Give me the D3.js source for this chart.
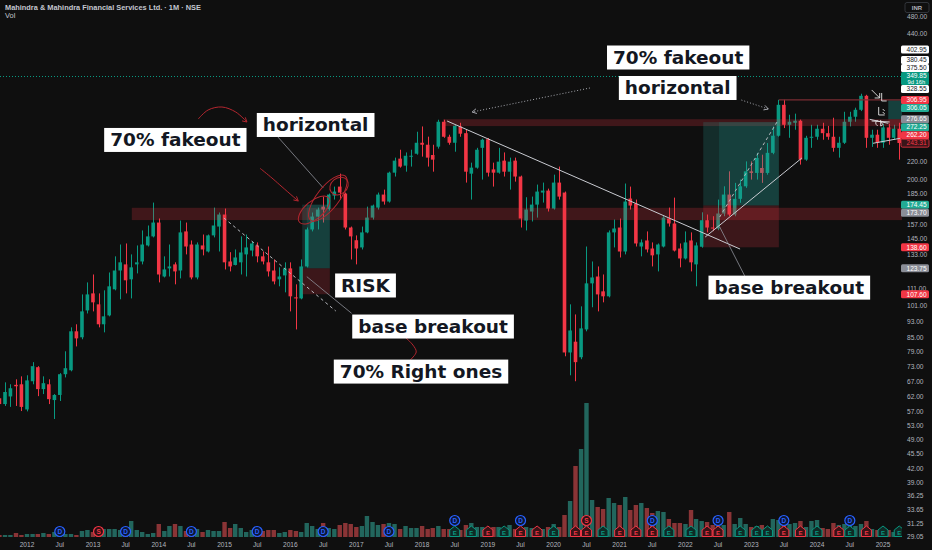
<!DOCTYPE html>
<html>
<head>
<meta charset="utf-8">
<script src="https://cdn.jsdelivr.net/npm/d3@7"></script>
<style>
  html, body { margin: 0; padding: 0; background: #0f0f0f; }
  svg { display: block; }
</style>
</head>
<body>
<div class="chart-container"></div>
<script>
// monthly candles, first bar Aug 2011
const startMonth = new Date(2011, 7, 1)

const opens = [
  61.4, 59.5, 62.0, 66.0, 66.2,
  57.8, 67.3, 72.6, 64.5, 66.2, 60.8, 62.5, 69.9, 71.4, 88.1, 85.3, 98.6,
  108.1, 101.9, 91.5, 96.0, 110.5, 122.3, 126.4, 116.6, 126.4, 128.4, 140.0, 147.0,
  158.4, 118.4, 123.7, 126.4, 122.3, 151.0, 140.7, 117.8, 140.0, 135.5, 147.8, 155.0,
  165.4, 128.4, 126.0, 127.8, 133.4, 136.2, 140.0, 132.0, 127.8, 122.3, 116.6, 119.1,
  123.7, 105.8, 105.2, 125.0, 152.6, 163.6, 172.6, 170.5, 183.2, 192.3, 185.2, 154.2,
  144.0, 138.5, 150.2, 162.7, 171.7, 184.2, 177.4, 207.3, 223.6, 215.3, 226.0, 229.6,
  243.6, 241.0, 228.0, 238.5, 272.8, 251.6, 243.6, 266.0, 256.5, 206.2, 213.0, 237.0,
  248.3, 211.0, 207.3, 221.2, 208.4, 221.2, 203.0, 160.1, 168.1, 174.5, 186.2, 188.2,
  170.8, 196.5, 186.2, 78.6, 83.3, 76.6, 89.0, 114.1, 118.4, 109.3, 106.4, 150.2,
  154.2, 135.5, 180.3, 175.4, 139.2, 143.8, 137.7, 133.4, 139.2, 161.9, 157.6, 137.7,
  130.5, 143.8, 126.4, 139.0, 160.4, 154.2, 153.4, 166.3, 184.2, 165.4, 180.0, 192.6,
  208.8, 207.0, 212.6, 207.0, 230.7, 253.0, 298.9, 268.4, 271.3, 274.3, 222.4, 250.2,
  251.6, 262.7, 256.5, 251.6, 237.0, 243.6, 272.8, 280.3, 291.0, 313.8, 250.2, 254.4,
  243.6, 264.6, 250.2, 262.7
]
const highs = [
  68.7, 66.9, 66.2, 68.0, 69.1,
  69.5, 74.6, 73.0, 69.1, 68.0, 62.8, 70.3, 79.1, 90.0, 91.5, 107.5, 114.7,
  119.7, 108.1, 109.9, 121.0, 132.0, 140.7, 141.5, 133.4, 140.0, 151.8, 155.9, 176.4,
  161.9, 132.0, 140.7, 127.8, 160.1, 158.4, 143.8, 142.3, 148.5, 148.5, 171.7, 167.2,
  170.8, 135.0, 137.0, 147.0, 148.5, 143.0, 142.3, 135.5, 139.2, 129.8, 124.4, 127.8,
  127.8, 113.5, 129.8, 154.2, 167.2, 171.7, 182.2, 185.2, 192.3, 206.2, 186.2, 155.0,
  147.8, 155.0, 172.6, 174.5, 186.2, 189.2, 208.4, 224.8, 234.6, 231.2, 234.6, 258.5,
  266.0, 251.7, 241.0, 275.8, 275.8, 254.4, 268.4, 271.3, 261.3, 218.8, 237.0, 249.0,
  249.9, 218.8, 237.0, 231.2, 224.8, 224.8, 204.0, 181.6, 182.2, 194.4, 196.5, 190.2,
  205.1, 214.2, 187.2, 101.9, 96.5, 100.8, 139.2, 128.4, 125.0, 119.7, 151.8, 161.0,
  161.9, 195.5, 192.3, 179.3, 144.6, 151.0, 142.3, 141.5, 164.5, 171.7, 181.2, 141.5,
  151.0, 150.2, 142.3, 167.4, 165.4, 163.9, 179.3, 192.6, 208.8, 196.2, 199.7, 220.3,
  220.3, 230.7, 228.4, 243.2, 266.0, 307.1, 307.1, 283.3, 285.0, 276.0, 252.9, 268.4,
  268.4, 271.3, 266.8, 278.8, 251.6, 287.9, 287.9, 294.3, 317.3, 315.5, 261.3, 261.3,
  269.9, 269.9, 268.4, 271.3
]
const lows = [
  56.9, 58.9, 58.6, 58.9, 57.3,
  57.2, 66.2, 62.1, 62.8, 59.5, 54.9, 60.5, 68.7, 71.0, 81.2, 84.4, 97.0,
  98.1, 90.0, 87.6, 95.5, 109.9, 104.7, 108.1, 105.2, 120.4, 126.4, 139.2, 146.2,
  114.7, 117.8, 118.4, 113.5, 117.2, 133.4, 116.6, 116.6, 132.7, 134.8, 146.2, 135.5,
  123.0, 121.7, 125.7, 119.7, 118.4, 132.0, 127.8, 126.4, 118.4, 113.5, 112.3, 108.7,
  98.1, 89.0, 104.7, 124.4, 151.0, 152.6, 158.4, 169.0, 179.3, 179.3, 152.6, 129.8,
  126.4, 137.0, 149.5, 161.0, 169.9, 174.5, 176.4, 203.0, 213.0, 208.4, 214.2, 228.4,
  226.0, 214.2, 208.4, 236.0, 250.2, 241.0, 232.1, 251.6, 196.5, 179.3, 211.8, 199.7,
  203.0, 192.3, 206.2, 203.0, 189.2, 197.5, 154.2, 151.8, 159.3, 162.7, 176.4, 168.1,
  169.9, 179.3, 77.0, 69.5, 67.3, 75.8, 88.1, 100.3, 98.1, 103.0, 105.8, 138.5,
  131.2, 133.4, 169.9, 139.2, 132.0, 134.8, 125.0, 121.7, 138.5, 155.0, 135.5, 124.4,
  129.8, 121.7, 112.3, 138.3, 150.2, 151.2, 152.0, 163.9, 163.9, 163.9, 176.2, 191.0,
  199.7, 199.7, 196.2, 205.0, 229.0, 251.7, 263.7, 250.2, 261.3, 216.5, 221.0, 237.0,
  247.6, 247.6, 247.6, 232.1, 224.8, 242.0, 266.0, 272.8, 289.0, 237.0, 238.2, 237.0,
  237.0, 241.0, 247.6, 222.4
]
const closes = [
  59.5, 63.5, 64.8, 65.5, 58.6,
  67.6, 73.0, 64.5, 66.6, 61.1, 62.5, 69.9, 72.2, 88.1, 84.8, 98.1, 107.5,
  103.0, 91.5, 95.5, 112.3, 122.3, 127.8, 116.0, 124.4, 127.8, 140.7, 147.0, 158.4,
  119.7, 123.0, 125.0, 121.7, 150.2, 139.2, 117.8, 140.7, 137.0, 147.8, 155.9, 165.4,
  127.8, 125.0, 131.2, 134.8, 138.5, 141.5, 132.0, 128.4, 121.7, 115.3, 118.4, 123.7,
  106.4, 105.2, 125.0, 152.6, 163.6, 169.9, 169.9, 184.2, 187.2, 186.2, 154.2, 147.0,
  137.7, 150.2, 162.7, 173.6, 184.2, 177.4, 207.3, 221.2, 214.2, 227.1, 227.1, 243.6,
  241.0, 224.8, 222.4, 272.8, 251.6, 243.6, 267.0, 255.8, 208.4, 213.0, 234.6, 247.6,
  207.3, 207.3, 220.0, 208.4, 220.0, 203.0, 161.9, 169.9, 174.5, 187.2, 188.2, 170.8,
  196.5, 182.2, 78.6, 88.5, 74.6, 89.5, 114.1, 117.8, 107.5, 106.4, 150.2, 153.4,
  135.5, 177.4, 173.6, 141.5, 142.3, 137.0, 132.7, 140.7, 162.7, 157.6, 136.2, 130.5,
  142.3, 127.8, 140.0, 160.4, 154.2, 153.4, 166.3, 184.2, 165.4, 180.0, 192.6, 208.8,
  207.0, 224.4, 207.0, 230.7, 253.0, 298.9, 268.4, 272.8, 274.3, 222.4, 250.2, 251.6,
  262.7, 256.5, 251.6, 237.0, 243.6, 272.8, 280.3, 291.0, 313.8, 250.2, 254.4, 243.6,
  264.6, 250.2, 262.7, 243.3
]
// volume, millions of shares
const volumes = [
  10, 10, 10, 20, 10,
  15, 15, 15, 20, 15, 25, 20, 15, 15, 10, 30, 35,
  25, 25, 40, 40, 40, 35, 35, 80, 35, 25, 15, 20,
  65, 30, 55, 65, 55, 30, 40, 40, 25, 35, 30, 30,
  75, 45, 65, 45, 25, 35, 25, 30, 35, 35, 20, 25,
  35, 30, 25, 70, 55, 40, 70, 45, 40, 60, 70, 65,
  50, 55, 105, 75, 60, 65, 70, 65, 40, 55, 45, 45,
  55, 40, 45, 55, 40, 40, 50, 35, 60, 70, 50, 50,
  45, 50, 50, 45, 60, 40, 45, 50, 45, 50, 40, 50,
  65, 50, 110, 180, 355, 440, 670, 185, 150, 140, 195, 170,
  160, 200, 135, 160, 170, 145, 120, 130, 125, 90, 70, 70,
  65, 135, 90, 80, 75, 60, 55, 60, 125, 65, 95, 65,
  50, 55, 60, 50, 90, 85, 65, 65, 70, 80, 50, 80,
  85, 45, 40, 70, 60, 65, 60, 55, 65, 80, 40, 35,
  40, 35, 25, 30
]

const dividendMonths = ['2012-07', '2013-07', '2014-07', '2015-07', '2016-07', '2017-07',
  '2018-07', '2019-07', '2021-07', '2022-07', '2023-07', '2024-07']
const splitMonths = ['2013-02', '2020-07']
const earningsMonths = ['2018-07', '2018-10', '2019-01', '2019-04', '2019-07', '2019-10',
  '2020-01', '2020-05', '2020-07', '2020-10', '2021-01', '2021-04', '2021-07', '2021-10',
  '2022-02', '2022-05', '2022-07', '2022-11', '2023-02', '2023-04', '2023-07', '2023-10',
  '2024-01', '2024-05', '2024-07', '2024-10', '2025-01', '2025-04']
const earningsBeat = [1, 1, 0, 1, 0, 0, 1, 0, 0, 1, 0, 0, 0, 1, 1, 0, 0, 1, 1, 1, 0, 0, 1, 0, 1, 0, 1, 1]

// price axis (121.00 sits under the 123.75 badge, so it is left out)
const tickValues = [480, 440, 220, 200, 185, 157, 145, 133, 111, 101, 93, 85, 79, 73,
  67, 62, 57, 53, 49, 45.5, 42, 39, 36.25, 33.65, 31.25, 29.05]
const badgeValues = [402.95, 380.45, 375.50, 349.85, 328.55, 306.95, 306.05, 276.65, 272.25,
  262.20, 243.31, 174.45, 173.70, 138.60, 123.75, 107.60]
const badgeKinds = ['white', 'white', 'white', 'last', 'white', 'red', 'teal', 'gray', 'teal',
  'red', 'outline', 'teal', 'gray', 'red', 'gray', 'red']
const lastPrice = 349.85
const priorHigh = 306.95

// drawings, anchored as [decimal year, price]
const zoneRanges = [[2013.59, 2025.6, 160.5, 171.5], [2018.32, 2025.6, 266.5, 276.6]]
const longTools = [
  // from, fill from, to, target, entry, stop
  [2016.18, 2016.25, 2016.60, 174.45, 123.75, 107.60],
  [2022.27, 2022.51, 2023.42, 272.25, 173.70, 138.60],
  [2025.08, 2025.08, 2025.6, 306.05, 276.65, 262.20]
]
const trendLines = [
  [[2018.38, 273.9], [2022.83, 137.3]],
  [[2022.30, 146.5], [2023.77, 224.4]],
  [[2024.85, 242.9], [2025.26, 249.5]],
  [[2024.80, 276.4], [2025.08, 270.5]]
]
const pointerLines = [
  [[2015.81, 251.3], [2016.50, 190.9]],
  [[2016.25, 118.3], [2016.93, 97.1]],
  [[2022.90, 118.8], [2022.52, 154.7]]
]
const dashedLines = [
  [[2014.99, 162.3], [2016.69, 98.3]],
  [[2022.52, 163.2], [2023.39, 272.25]]
]
const dottedArrows = [
  [[2020.55, 327.3], [2018.76, 287.5]],
  [[2022.85, 306.7], [2023.26, 292.2]]
]
const redStrokes = [
  [[2014.60, 276.9], [2014.75, 290.7], [2014.96, 295.4], [2015.17, 287.5], [2015.34, 272.4]],
  [[2015.54, 212.2], [2015.72, 201.4], [2015.84, 194.0], [2016.12, 177.9]],
  [[2017.74, 85.4], [2017.86, 81.8], [2017.91, 78.8], [2017.82, 75.5]]
]
const redCircles = [[2016.36, 169.5], [2016.57, 180.8], [2016.74, 192.9]]
const scribbleAt = [2024.83, 323.8]

const labelTexts = ['70% fakeout', 'horizontal', 'RISK', 'base breakout', '70% Right ones',
  '70% fakeout', 'horizontal', 'base breakout']
const labelAnchors = [[2013.17, 247.3], [2015.49, 268.1], [2016.68, 112.8], [2016.94, 90.4],
  [2016.66, 70.9], [2020.81, 385.8], [2020.99, 327.3], [2022.35, 111.5]]

let width = 932,
    height = 550,
    plotRight = 902,
    volBase = 537

const up = '#089981', down = '#f23645'
const axisFont = 'Liberation Sans, Arial, sans-serif'

let x = d3.scaleTime()
  .domain([new Date(2012, 0, 1), new Date(2025, 0, 1)])
  .range([27, 883])

let y = d3.scaleLog()
  .domain([29.05, 480])
  .range([537, 17])

let yVol = d3.scaleLinear()
  .domain([0, 670])
  .range([volBase, 403])

function yr (v) {
  let base = Math.floor(v)
  let t0 = new Date(base, 0, 1).getTime()
  return new Date(t0 + (v - base) * 365.25 * 864e5)
}
function pt (a) { return [x(yr(a[0])), y(a[1])] }
function ym (s) {
  let p = s.split('-')
  return new Date(+p[0], +p[1] - 1, 1)
}

let bars = opens.map((o, i) => ({
  date: d3.timeMonth.offset(startMonth, i),
  o: o, h: highs[i], l: lows[i], c: closes[i], v: volumes[i]
}))

let svg = d3.select('.chart-container')
  .append('svg')
  .attr('width', width)
  .attr('height', height)

svg.append('rect').attr('width', width).attr('height', height).attr('fill', '#0f0f0f')

svg.append('defs').append('clipPath').attr('id', 'plot')
  .append('rect').attr('width', plotRight).attr('height', height)

let plot = svg.append('g').attr('clip-path', 'url(#plot)')

// volume
plot.append('g').selectAll('rect')
  .data(bars)
  .enter()
  .append('rect')
  .attr('x', d => x(d.date) - 2.2)
  .attr('width', 4.4)
  .attr('y', d => yVol(d.v))
  .attr('height', d => volBase - yVol(d.v))
  .attr('fill', d => d.c >= d.o ? '#22665d' : '#8a3436')

// candles
let candle = plot.append('g').selectAll('g')
  .data(bars)
  .enter()
  .append('g')

candle.append('line')
  .attr('x1', d => Math.round(x(d.date)) + 0.5)
  .attr('x2', d => Math.round(x(d.date)) + 0.5)
  .attr('y1', d => y(d.h))
  .attr('y2', d => y(d.l))
  .attr('stroke', d => d.c >= d.o ? up : down)
  .attr('stroke-width', 1)

candle.append('rect')
  .attr('x', d => x(d.date) - 1.8)
  .attr('width', 3.6)
  .attr('y', d => y(Math.max(d.o, d.c)))
  .attr('height', d => Math.max(1, Math.abs(y(d.o) - y(d.c))))
  .attr('fill', d => d.c >= d.o ? up : down)

// zones
zoneRanges.forEach(z => {
  plot.append('rect')
    .attr('x', x(yr(z[0])))
    .attr('width', x(yr(z[1])) - x(yr(z[0])))
    .attr('y', y(z[3]))
    .attr('height', y(z[2]) - y(z[3]))
    .attr('fill', 'rgba(242,54,69,0.22)')
})

// long position tools
longTools.forEach(t => {
  let x0 = x(yr(t[0])), xf = x(yr(t[1])), x1 = x(yr(t[2]))
  plot.append('rect').attr('x', x0).attr('width', x1 - x0)
    .attr('y', y(t[3])).attr('height', y(t[4]) - y(t[3]))
    .attr('fill', 'rgba(38,166,154,0.2)')
  plot.append('rect').attr('x', xf).attr('width', x1 - xf)
    .attr('y', y(t[3])).attr('height', y(t[4]) - y(t[3]))
    .attr('fill', 'rgba(38,166,154,0.16)')
  plot.append('rect').attr('x', x0).attr('width', x1 - x0)
    .attr('y', y(t[4])).attr('height', y(t[5]) - y(t[4]))
    .attr('fill', 'rgba(242,54,69,0.2)')
})

// price lines
plot.append('line')
  .attr('x1', 0).attr('x2', plotRight)
  .attr('y1', Math.round(y(lastPrice)) + 0.5).attr('y2', Math.round(y(lastPrice)) + 0.5)
  .attr('stroke', up).attr('stroke-width', 1).attr('stroke-dasharray', '1,2')
plot.append('line')
  .attr('x1', x(yr(2023.42))).attr('x2', plotRight)
  .attr('y1', y(priorHigh)).attr('y2', y(priorHigh))
  .attr('stroke', '#7a2c33').attr('stroke-width', 1.2)

let line = d3.line()

trendLines.forEach(l => {
  plot.append('path').attr('d', line(l.map(pt)))
    .attr('stroke', '#c9cbd1').attr('stroke-width', 1).attr('fill', 'none')
})
pointerLines.forEach(l => {
  plot.append('path').attr('d', line(l.map(pt)))
    .attr('stroke', '#8f929a').attr('stroke-width', 0.8).attr('fill', 'none')
})
dashedLines.forEach(l => {
  plot.append('path').attr('d', line(l.map(pt)))
    .attr('stroke', '#b8bac0').attr('stroke-width', 1).attr('stroke-dasharray', '3,3')
    .attr('fill', 'none')
})

function arrowHead (g, p, q, color) {
  let a = Math.atan2(q[1] - p[1], q[0] - p[0])
  let s = 5
  let l1 = [q[0] - s * Math.cos(a - 0.5), q[1] - s * Math.sin(a - 0.5)]
  let l2 = [q[0] - s * Math.cos(a + 0.5), q[1] - s * Math.sin(a + 0.5)]
  g.append('path').attr('d', line([l1, q, l2]))
    .attr('stroke', color).attr('stroke-width', 1).attr('fill', 'none')
}

dottedArrows.forEach(l => {
  let ps = l.map(pt)
  plot.append('path').attr('d', line(ps))
    .attr('stroke', '#a7a9b0').attr('stroke-width', 1).attr('stroke-dasharray', '1,2')
    .attr('fill', 'none')
  arrowHead(plot, ps[0], ps[1], '#a7a9b0')
})

// hand drawn red marks
let curve = d3.line().curve(d3.curveCatmullRom)
redStrokes.forEach((s, i) => {
  let ps = s.map(pt)
  plot.append('path').attr('d', curve(ps))
    .attr('stroke', '#b3262f').attr('stroke-width', 1).attr('fill', 'none')
  if (i < 2) arrowHead(plot, ps[ps.length - 2], ps[ps.length - 1], '#b3262f')
})
const circleShapes = [[19, 9, -40], [28, 11, -52], [10, 8, -40]]
redCircles.forEach((c, i) => {
  let p = pt(c)
  plot.append('ellipse')
    .attr('transform', `translate(${p[0]},${p[1]}) rotate(${circleShapes[i][2]})`)
    .attr('rx', circleShapes[i][0]).attr('ry', circleShapes[i][1])
    .attr('stroke', '#b3262f').attr('stroke-width', 1).attr('fill', 'none')
})

// white scribbles near the latest high
let sp = pt(scribbleAt)
plot.append('path')
  .attr('transform', `translate(${sp[0]},${sp[1]})`)
  .attr('d', 'M0,0 L8,8 M8,8 L8,3 M8,8 L3,8 M10,3 L10,11 L15,11 ' +
    'M7,17 L7,25 L13,25 M11,19 L13,21 M11,22 L13,24 ' +
    'M6,30 Q2,33 6,36 M9,30 L9,36 Q13,35 9,32 M0,31 L18,32')
  .attr('stroke', '#e6e6e6').attr('stroke-width', 0.9).attr('fill', 'none')

// text boxes
let labels = plot.append('g')
labelTexts.forEach((t, i) => {
  let p = pt(labelAnchors[i])
  let g = labels.append('g')
  let box = g.append('rect').attr('fill', '#ffffff')
  let txt = g.append('text')
    .attr('x', p[0] + 6)
    .attr('y', p[1] + 6.5)
    .attr('font-family', 'DejaVu Sans, Verdana, sans-serif')
    .attr('font-weight', 'bold')
    .attr('font-size', 18.5)
    .attr('fill', '#131722')
    .text(t)
  let w = txt.node().getComputedTextLength()
  box.attr('x', p[0]).attr('y', p[1] - 12).attr('width', w + 12).attr('height', 24)
})

// markers on the volume pane
let markers = plot.append('g')
earningsMonths.forEach((m, i) => {
  let cx = x(ym(m)), cy = 531.5
  let col = earningsBeat[i] ? up : down
  let g = markers.append('g').attr('transform', `translate(${cx},${cy})`)
  g.append('path').attr('d', 'M-5,5 L5,5 L5,-1.5 L0,-5.5 L-5,-1.5 Z')
    .attr('fill', earningsBeat[i] ? '#0f2a26' : '#3a1216')
    .attr('stroke', col).attr('stroke-width', 1)
  g.append('text').attr('y', 3).attr('text-anchor', 'middle')
    .attr('font-family', axisFont).attr('font-size', 6).attr('font-weight', 'bold')
    .attr('fill', col).text('E')
})
function circleMark (m, letter, stroke, fill) {
  let raised = earningsMonths.indexOf(m) >= 0
  let g = markers.append('g')
    .attr('transform', `translate(${x(ym(m))},${raised ? 520.5 : 531.5})`)
  g.append('circle').attr('r', 5).attr('fill', fill).attr('stroke', stroke).attr('stroke-width', 1.2)
  g.append('text').attr('y', 2.4).attr('text-anchor', 'middle')
    .attr('font-family', axisFont).attr('font-size', 6.5).attr('font-weight', 'bold')
    .attr('fill', stroke).text(letter)
}
dividendMonths.forEach(m => circleMark(m, 'D', '#2962ff', '#0d1633'))
splitMonths.forEach(m => circleMark(m, 'S', '#f23645', '#2f0f13'))

// time axis
let timeTicks = d3.timeMonth.every(6).range(new Date(2011, 11, 1), new Date(2025, 3, 1))
svg.append('g').selectAll('text')
  .data(timeTicks)
  .enter()
  .append('text')
  .attr('x', d => x(d))
  .attr('y', 546.5)
  .attr('text-anchor', 'middle')
  .attr('font-family', axisFont)
  .attr('font-size', 6.6)
  .attr('fill', '#b2b5be')
  .text(d => d.getMonth() === 0 ? d.getFullYear() : 'Jul')

// price axis
svg.append('g').selectAll('text')
  .data(tickValues)
  .enter()
  .append('text')
  .attr('x', 907)
  .attr('y', d => y(d) + 2.4)
  .attr('font-family', axisFont)
  .attr('font-size', 6.6)
  .attr('fill', '#b2b5be')
  .text(d => d.toFixed(2))

const badgeFill = { white: '#ffffff', red: '#f23645', teal: '#22ab94', gray: '#8a8d96', last: '#089981', outline: '#3a1519' }
const badgeText = { white: '#131722', red: '#ffffff', teal: '#ffffff', gray: '#ffffff', last: '#ffffff', outline: '#f23645' }

let prevBottom = -Infinity
let axisBadges = svg.append('g')
badgeValues.forEach((v, i) => {
  let kind = badgeKinds[i]
  let h = kind === 'last' ? 13 : 8
  let top = Math.max(y(v) - 4, prevBottom)
  prevBottom = top + h
  axisBadges.append('rect')
    .attr('x', 901).attr('y', top).attr('width', 28).attr('height', h).attr('rx', 1.5)
    .attr('fill', badgeFill[kind])
    .attr('stroke', kind === 'outline' ? '#f23645' : 'none').attr('stroke-width', 0.8)
  axisBadges.append('text')
    .attr('x', 906.5).attr('y', top + 6.3)
    .attr('font-family', axisFont).attr('font-size', 6.6)
    .attr('fill', badgeText[kind])
    .text(v.toFixed(2))
  if (kind === 'last') {
    axisBadges.append('text')
      .attr('x', 907.5).attr('y', top + 11.8)
      .attr('font-family', axisFont).attr('font-size', 5.8)
      .attr('fill', '#ffffff')
      .text('9d 16h')
  }
})

svg.append('rect').attr('x', 905).attr('y', 2.5).attr('width', 24).attr('height', 10).attr('rx', 2)
  .attr('fill', 'none').attr('stroke', '#3a3d45').attr('stroke-width', 0.8)
svg.append('text').attr('x', 917).attr('y', 9.8).attr('text-anchor', 'middle')
  .attr('font-family', axisFont).attr('font-size', 6).attr('font-weight', 'bold')
  .attr('fill', '#b2b5be').text('INR')

// header
svg.append('text').attr('x', 5).attr('y', 9.8)
  .attr('font-family', axisFont).attr('font-size', 7.4).attr('font-weight', 'bold')
  .attr('fill', '#c3c6ce')
  .text('Mahindra & Mahindra Financial Services Ltd. · 1M · NSE')
svg.append('text').attr('x', 5).attr('y', 17.8)
  .attr('font-family', axisFont).attr('font-size', 7.4)
  .attr('fill', '#c3c6ce')
  .text('Vol')
</script>
</body>
</html>
